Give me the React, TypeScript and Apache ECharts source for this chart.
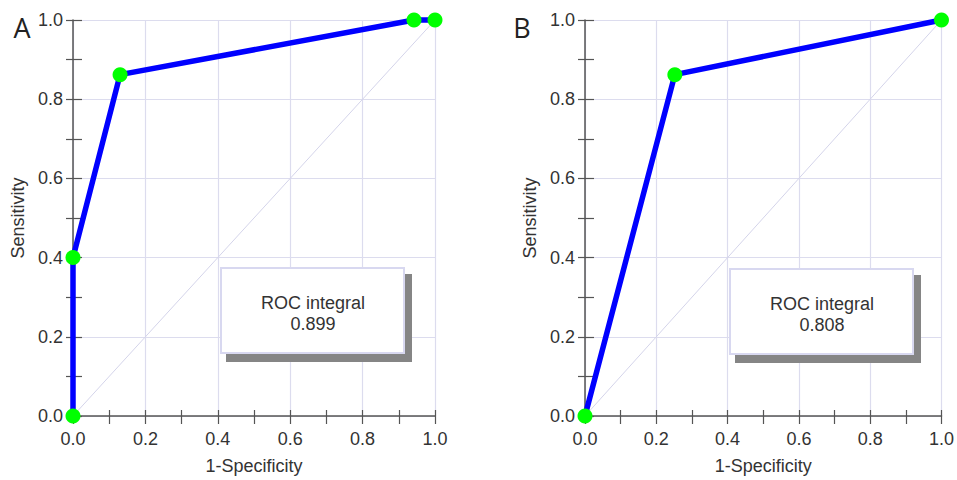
import React, { useEffect, useRef } from "react";
import * as echarts from "echarts";

const panelLabels = ["A", "B"];
const rocAX = [0, 0, 0.13, 0.942, 1];
const rocAY = [0, 0.4, 0.862, 1, 1];
const rocBX = [0, 0.252, 1];
const rocBY = [0, 0.862, 1];
const aucValues = ["0.899", "0.808"];
const boxTitle = "ROC integral";
const xName = "1-Specificity";
const yName = "Sensitivity";
const diagX = [0, 1];
const diagY = [0, 1];

const FONT = "'Liberation Sans', Arial, Helvetica, sans-serif";
const FS = 18;

export default function App() {
  const ref = useRef<HTMLDivElement>(null);
  useEffect(() => {
    if (!ref.current) return;
    const chart = echarts.init(ref.current, null, { renderer: "svg" });
    const grids = [
      { left: 73, right: 522, top: 20, bottom: 62 },
      { left: 585, right: 13, top: 20, bottom: 62 },
    ];
    const axisCommon = {
      type: "value",
      min: 0,
      max: 1,
      interval: 0.2,
    };
    const xAxes: any[] = [];
    const yAxes: any[] = [];
    grids.forEach((_, g) => {
      xAxes.push({
        ...axisCommon,
        gridIndex: g,
        position: "bottom",
        name: xName,
        nameLocation: "middle",
        nameGap: 41,
        nameTextStyle: { fontFamily: FONT, fontSize: FS, color: "#333" },
        axisLine: { show: true, onZero: false, lineStyle: { color: "#555", width: 1.5 } },
        axisTick: { show: true, inside: false, length: 8, lineStyle: { color: "#555", width: 1.2 } },
        minorTick: { show: true, splitNumber: 2, length: 8, lineStyle: { color: "#555", width: 1.2 } },
        axisLabel: {
          margin: 14,
          fontFamily: FONT,
          fontSize: FS,
          color: "#333",
          formatter: (v: number) => v.toFixed(1),
        },
        splitLine: { show: true, lineStyle: { color: "#dcdcee", width: 1.2 } },
      });
      xAxes.push({
        ...axisCommon,
        gridIndex: g,
        position: "bottom",
        axisLine: { show: false, onZero: false },
        axisTick: { show: true, inside: true, length: 6, lineStyle: { color: "#555", width: 1.2 } },
        minorTick: { show: true, splitNumber: 2, length: 6, lineStyle: { color: "#555", width: 1.2 } },
        axisLabel: { show: false },
        splitLine: { show: false },
      });
      yAxes.push({
        ...axisCommon,
        gridIndex: g,
        position: "left",
        name: yName,
        nameLocation: "middle",
        nameGap: 46,
        nameTextStyle: { fontFamily: FONT, fontSize: FS, color: "#333" },
        axisLine: { show: true, onZero: false, lineStyle: { color: "#555", width: 1.5 } },
        axisTick: { show: true, inside: false, length: 7, lineStyle: { color: "#555", width: 1.2 } },
        minorTick: { show: true, splitNumber: 2, length: 7, lineStyle: { color: "#555", width: 1.2 } },
        axisLabel: {
          margin: 10,
          fontFamily: FONT,
          fontSize: FS,
          color: "#333",
          formatter: (v: number) => v.toFixed(1),
        },
        splitLine: { show: true, lineStyle: { color: "#dcdcee", width: 1.2 } },
      });
      yAxes.push({
        ...axisCommon,
        gridIndex: g,
        position: "left",
        axisLine: { show: false, onZero: false },
        axisTick: { show: true, inside: true, length: 9, lineStyle: { color: "#555", width: 1.2 } },
        minorTick: { show: true, splitNumber: 2, length: 9, lineStyle: { color: "#555", width: 1.2 } },
        axisLabel: { show: false },
        splitLine: { show: false },
      });
    });

    const rocs = [
      rocAX.map((x, i) => [x, rocAY[i]]),
      rocBX.map((x, i) => [x, rocBY[i]]),
    ];
    const series: any[] = [];
    rocs.forEach((data, g) => {
      series.push({
        type: "line",
        xAxisIndex: g * 2,
        yAxisIndex: g * 2,
        data: diagX.map((x, i) => [x, diagY[i]]),
        showSymbol: false,
        lineStyle: { color: "#d4d4ea", width: 1 },
        z: 1,
        silent: true,
      });
      series.push({
        type: "line",
        xAxisIndex: g * 2,
        yAxisIndex: g * 2,
        data,
        symbol: "circle",
        symbolSize: 15,
        showAllSymbol: true,
        lineStyle: { color: "#0000ff", width: 5.5 },
        itemStyle: { color: "#00ff00", borderWidth: 0 },
        z: 5,
        clip: false,
      });
    });

    const boxes = [
      { x: 221, y: 268, w: 183, h: 85, cx: 313 },
      { x: 730, y: 269, w: 183, h: 85, cx: 822 },
    ];
    const graphic: any[] = [];
    boxes.forEach((b, i) => {
      graphic.push({
        type: "rect",
        shape: { x: b.x + 5, y: b.y + 6, width: b.w + 3, height: b.h + 3 },
        style: { fill: "#858585" },
        z: 10,
      });
      graphic.push({
        type: "rect",
        shape: { x: b.x, y: b.y, width: b.w, height: b.h },
        style: { fill: "#ffffff", stroke: "#d8d8f0", lineWidth: 2 },
        z: 11,
      });
      graphic.push({
        type: "text",
        x: b.cx,
        y: b.y + 35,
        style: {
          text: boxTitle,
          fontFamily: FONT,
          fontSize: FS,
          fill: "#333",
          align: "center",
          verticalAlign: "middle",
        },
        z: 12,
      });
      graphic.push({
        type: "text",
        x: b.cx,
        y: b.y + 56,
        style: {
          text: aucValues[i],
          fontFamily: FONT,
          fontSize: FS,
          fill: "#333",
          align: "center",
          verticalAlign: "middle",
        },
        z: 12,
      });
    });
    const letterPos = [
      { x: 22, y: 27 },
      { x: 522, y: 27 },
    ];
    panelLabels.forEach((t, i) => {
      graphic.push({
        type: "text",
        x: letterPos[i].x,
        y: letterPos[i].y,
        style: {
          text: t,
          fontFamily: "'Open Sans', 'Noto Sans', sans-serif",
          fontSize: 27,
          fill: "#222",
          align: "center",
          verticalAlign: "middle",
        },
        z: 12,
      });
    });

    chart.setOption({
      animation: false,
      backgroundColor: "#ffffff",
      grid: grids,
      xAxis: xAxes,
      yAxis: yAxes,
      series,
      graphic,
    });
    return () => chart.dispose();
  }, []);
  return (
    <div
      ref={ref}
      style={{ position: "absolute", left: 0, top: 0, width: 957, height: 480 }}
    />
  );
}
